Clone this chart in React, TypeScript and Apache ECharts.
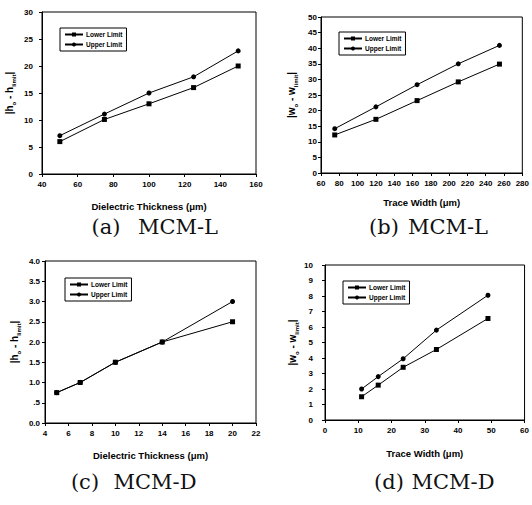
import React, { useEffect, useRef } from "react";
import * as echarts from "echarts";

// (a) MCM-L: dielectric thickness
const aX = [50, 75, 100, 125, 150];
const aLower = [6, 10.1, 13, 16, 20];
const aUpper = [7.1, 11.1, 15, 18, 22.8];
// (b) MCM-L: trace width
const bX = [75, 120, 165, 210, 255];
const bLower = [12.2, 17.2, 23.2, 29.2, 34.9];
const bUpper = [14.2, 21.2, 28.3, 35, 40.9];
// (c) MCM-D: dielectric thickness
const cX = [5, 7, 10, 14, 20];
const cLower = [0.75, 1.0, 1.5, 2.0, 2.5];
const cUpper = [0.75, 1.0, 1.5, 2.0, 3.0];
// (d) MCM-D: trace width
const dX = [11, 16, 23.5, 33.5, 49];
const dLower = [1.5, 2.25, 3.4, 4.55, 6.55];
const dUpper = [2.0, 2.8, 3.95, 5.8, 8.05];

const seriesNames = ["Lower Limit", "Upper Limit"];
const xTitles = ["Dielectric Thickness (\u03bcm)", "Trace Width (\u03bcm)", "Dielectric Thickness (\u03bcm)", "Trace Width (\u03bcm)"];
const yTitles = ["|h{s|o} - h{s|limit}|", "|w{s|o} - w{s|limit}|", "|h{s|o} - h{s|limit}|", "|w{s|o} - w{s|limit}|"];
const captionTags = ["(a)", "(b)", "(c)", "(d)"];
const captionNames = ["MCM-L", "MCM-L", "MCM-D", "MCM-D"];
const cTickLabels: Record<string, string> = { "0": "0.0", "0.5": ".5", "1": "1.0", "1.5": "1.5", "2": "2.0", "2.5": "2.5", "3": "3.0", "3.5": "3.5", "4": "4.0" };

const SANS = "'Liberation Sans', Arial, sans-serif";
const SERIF = "'DejaVu Serif', 'Liberation Serif', serif";

export default function App() {
  const ref = useRef<HTMLDivElement>(null);
  useEffect(() => {
    if (!ref.current) return;
    const chart = echarts.init(ref.current, null, { renderer: "svg" });

    const grids = [
      { left: 42, top: 12, width: 214, height: 162 },
      { left: 321, top: 17, width: 206, height: 156 },
      { left: 45, top: 261, width: 211, height: 162 },
      { left: 325, top: 265, width: 202, height: 155 },
    ];
    const xRanges = [
      { min: 40, max: 160, interval: 20 },
      { min: 60, max: 280, interval: 20 },
      { min: 4, max: 22, interval: 2 },
      { min: 0, max: 60, interval: 10 },
    ];
    const yRanges = [
      { min: 0, max: 30, interval: 5 },
      { min: 0, max: 50, interval: 5 },
      { min: 0, max: 4, interval: 0.5 },
      { min: 0, max: 10, interval: 1 },
    ];
    const yLabelMargins = [9, 4, 5, 12];
    const yNameGaps = [25, 22, 23, 22];
    const xNameGaps = [27, 24, 27, 28];
    const legendPos = [
      { left: 60, top: 28 },
      { left: 339, top: 32 },
      { left: 65, top: 278 },
      { left: 343, top: 281 },
    ];
    const data = [
      [aX, aLower, aUpper],
      [bX, bLower, bUpper],
      [cX, cLower, cUpper],
      [dX, dLower, dUpper],
    ];

    const axisCommon = {
      axisLine: { show: true, onZero: false, lineStyle: { color: "#000", width: 1 } },
      axisTick: { show: true, inside: false, length: 3, lineStyle: { color: "#000" } },
      splitLine: { show: false },
    };

    const xAxis = grids.map((_, i) => ({
      type: "value",
      gridIndex: i,
      ...xRanges[i],
      ...axisCommon,
      axisLabel: { fontSize: 8, fontWeight: "bold", color: "#000", fontFamily: SANS, margin: 6 },
      name: xTitles[i],
      nameLocation: "middle",
      nameGap: xNameGaps[i],
      nameTextStyle: { fontSize: 9.5, fontWeight: "bold", color: "#000", fontFamily: SANS },
    }));

    const yAxis = grids.map((_, i) => ({
      type: "value",
      gridIndex: i,
      ...yRanges[i],
      ...axisCommon,
      axisLabel: {
        fontSize: 8,
        fontWeight: "bold",
        color: "#000",
        fontFamily: SANS,
        margin: yLabelMargins[i],
        formatter: i === 2 ? (v: number) => cTickLabels[String(v)] ?? String(v) : undefined,
      },
      name: yTitles[i],
      nameLocation: "middle",
      nameRotate: 90,
      nameGap: yNameGaps[i],
      nameTextStyle: {
        fontSize: 10,
        fontWeight: "bold",
        color: "#000",
        fontFamily: SANS,
        lineHeight: 16,
        rich: {
          s: { fontSize: 6, fontWeight: "bold", fontFamily: SANS, color: "#000", verticalAlign: "bottom", lineHeight: 12 },
        },
      },
    }));

    const series: any[] = [];
    data.forEach(([xs, lo, up], i) => {
      series.push({
        name: seriesNames[0],
        type: "line",
        xAxisIndex: i,
        yAxisIndex: i,
        data: xs.map((x, k) => [x, lo[k]]),
        symbol: "rect",
        symbolSize: 5,
        lineStyle: { color: "#000", width: 1 },
        itemStyle: { color: "#000" },
      });
      series.push({
        name: seriesNames[1],
        type: "line",
        xAxisIndex: i,
        yAxisIndex: i,
        data: xs.map((x, k) => [x, up[k]]),
        symbol: "circle",
        symbolSize: 5,
        lineStyle: { color: "#000", width: 1 },
        itemStyle: { color: "#000" },
      });
    });

    const legend = legendPos.map((p) => ({
      ...p,
      orient: "vertical",
      data: seriesNames,
      borderColor: "#000",
      borderWidth: 1,
      padding: [3, 4, 3, 4],
      itemWidth: 18,
      itemHeight: 5,
      itemGap: 3,
      selectedMode: false,
      textStyle: { fontSize: 6.5, fontWeight: "bold", color: "#000", fontFamily: SANS, padding: [0, 0, 0, -2] },
    }));

    const captionCenters = [
      { tagX: 106, nameX: 178, y: 227 },
      { tagX: 384, nameX: 448, y: 227 },
      { tagX: 85, nameX: 155, y: 482 },
      { tagX: 389, nameX: 453, y: 482 },
    ];
    const graphic: any[] = [];
    captionCenters.forEach((c, i) => {
      graphic.push({
        type: "text",
        x: c.tagX,
        y: c.y,
        style: { text: captionTags[i], fontSize: 21, fontFamily: SERIF, fill: "#111", align: "center", verticalAlign: "middle" },
      });
      graphic.push({
        type: "text",
        x: c.nameX,
        y: c.y,
        style: { text: captionNames[i], fontSize: 21, fontFamily: SERIF, fill: "#111", align: "center", verticalAlign: "middle" },
      });
    });

    chart.setOption({
      animation: false,
      backgroundColor: "#fff",
      grid: grids.map((g) => ({ ...g, show: true, borderColor: "#000", borderWidth: 1, backgroundColor: "transparent" })),
      xAxis,
      yAxis,
      series,
      legend,
      graphic,
    } as any);

    return () => chart.dispose();
  }, []);

  return <div ref={ref} style={{ position: "fixed", left: 0, top: 0, width: 532, height: 505, background: "#fff" }} />;
}
